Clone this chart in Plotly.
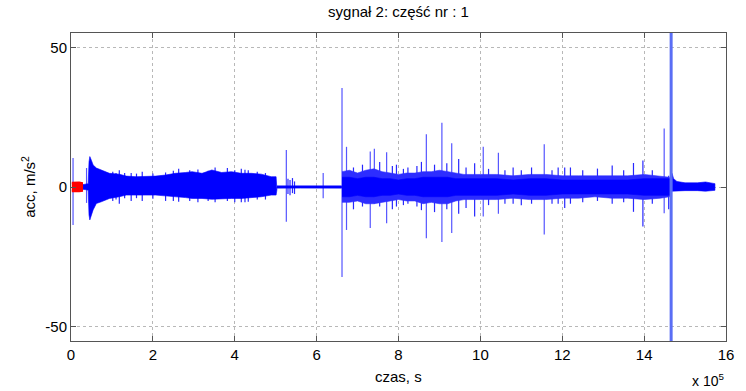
import plotly.graph_objects as go

# ---------------- data (time in seconds, acceleration in m/s^2) ----------------
# red highlighted part (część nr 1)
red_t = [2000, 8000, 14000, 20000, 27000]
red_hi = [1.5, 1.6, 1.5, 1.6, 1.4]
red_lo = [-1.5, -1.6, -1.5, -1.5, -1.4]

# first active segment: envelope of the dense signal
seg1_t = [27000, 38000, 42000, 44000, 46000, 50000, 54000, 62000, 74000, 94000, 118000,
          135000, 159000, 183000, 207000, 231000, 255000, 280000, 296000, 320000,
          344000, 368000, 392000, 416000, 441000, 465000, 489000, 501000, 503000]
seg1_hi = [0.8, 1.0, 1.2, 9.0, 10.9, 9.5, 7.9, 6.8, 6.1, 4.9, 4.6,
           3.9, 3.7, 3.7, 3.9, 4.3, 4.9, 5.2, 5.5, 4.9,
           6.1, 5.2, 5.5, 4.9, 4.9, 4.6, 3.7, 3.7, 1.0]
seg1_lo = [-0.8, -1.0, -1.2, -10.0, -11.8, -10.0, -8.2, -5.9, -5.3, -4.1, -3.5,
           -2.9, -2.9, -2.9, -2.9, -3.2, -3.5, -3.8, -4.1, -4.1,
           -4.4, -4.2, -4.1, -4.1, -3.8, -3.5, -2.9, -2.9, -1.0]

# quiet part between the two active segments
quiet_t = [503000, 560000, 600000, 640000, 661000]
quiet_hi = [0.4, 0.35, 0.35, 0.35, 0.4]
quiet_lo = [-0.4, -0.35, -0.35, -0.35, -0.4]

# second active segment: outer (sparse) and inner (dense) envelopes
seg2_t = [662000, 680000, 700000, 720000, 740000, 760000, 780000, 800000, 820000, 840000,
          860000, 880000, 900000, 920000, 940000, 960000, 980000, 1000000, 1040000, 1080000,
          1120000, 1160000, 1200000, 1240000, 1280000, 1320000, 1360000, 1400000, 1440000, 1462000]
seg2_out_hi = [5.5, 6.0, 5.0, 6.0, 6.5, 5.5, 5.0, 4.5, 5.0, 5.0, 5.5, 5.5, 6.0, 5.5, 5.0,
               4.5, 4.5, 4.5, 4.5, 4.0, 4.5, 4.5, 4.0, 4.0, 4.0, 4.0, 4.0, 4.5, 4.0, 3.5]
seg2_out_lo = [-5.5, -5.5, -5.0, -6.0, -6.0, -5.5, -5.0, -4.5, -5.0, -5.0, -6.0, -5.5, -6.0, -6.0, -5.0,
               -4.5, -4.5, -4.5, -4.5, -4.0, -4.5, -4.5, -4.0, -4.0, -3.5, -4.0, -4.0, -4.5, -4.0, -3.5]
seg2_in_hi = [3.5, 3.5, 3.0, 3.5, 3.5, 3.0, 3.0, 2.5, 3.0, 3.0, 3.5, 3.5, 3.5, 3.5, 3.0,
              3.0, 3.0, 3.0, 3.0, 2.5, 3.0, 3.0, 2.5, 2.5, 2.5, 2.5, 2.5, 3.0, 3.0, 3.0]
seg2_in_lo = [-3.5, -3.5, -3.0, -3.5, -3.5, -3.0, -3.0, -2.5, -3.0, -3.0, -3.5, -3.5, -3.5, -3.5, -3.0,
              -3.0, -3.0, -3.0, -3.0, -2.5, -3.0, -3.0, -2.5, -2.5, -2.5, -2.5, -2.5, -3.0, -3.0, -3.0]

# tail after the large impulse
tail_t = [1468000, 1472000, 1480000, 1500000, 1530000, 1550000, 1573000]
tail_hi = [5.0, 3.0, 2.0, 1.5, 1.5, 1.8, 1.2]
tail_lo = [-1.5, -1.5, -1.3, -1.3, -1.3, -1.5, -1.2]

# isolated tall spikes (time, max, min)
spike_t = [5000, 38000, 526000, 616000, 662000, 673000, 731000, 741000, 771000, 868000,
           906000, 930000, 1007000, 1044000, 1156000, 1449000]
spike_hi = [10.4, 6.8, 13.3, 5.0, 35.5, 14.4, 12.7, 13.7, 12.5, 18.9,
            23.0, 15.7, 14.4, 12.3, 15.3, 21.0]
spike_lo = [-13.6, -5.7, -12.5, -4.0, -32.3, -15.4, -14.7, -6.0, -13.0, -18.4,
            -19.7, -16.5, -10.6, -9.6, -17.0, -9.4]

# smaller fringe spikes around the dense signal (time, max, min)
fringe_t = [102000, 110000, 118000, 131000, 147000, 160000, 174000, 200000, 231000, 250000,
            263000, 290000, 310000, 335000, 352000, 382000, 400000, 416000, 425000, 433000,
            455000, 475000, 530000, 535000, 541000, 546000,
            690000, 712000, 754000, 785000, 795000, 812000, 823000, 845000, 856000, 888000,
            918000, 947000, 965000, 986000, 1020000, 1060000, 1080000, 1100000, 1125000,
            1175000, 1190000, 1206000, 1220000, 1250000, 1286000, 1322000, 1350000,
            1374000, 1397000, 1420000, 1460000]
fringe_hi = [5.5, 5.0, 6.0, 5.0, 5.0, 4.8, 5.5, 4.8, 5.2, 5.8,
             6.5, 6.0, 6.3, 5.8, 7.0, 6.8, 6.0, 6.5, 6.2, 6.0,
             5.5, 5.0, 3.0, 2.5, 3.2, 2.0,
             7.0, 8.0, 9.0, 7.5, 8.0, 6.5, 7.0, 7.5, 9.0, 8.0,
             8.5, 10.0, 7.0, 8.5, 6.5, 6.0, 7.0, 6.0, 7.0,
             6.0, 7.0, 7.0, 7.0, 6.0, 6.6, 7.7, 6.0,
             8.6, 9.5, 6.0, 4.0]
fringe_lo = [-5.0, -4.5, -6.0, -4.0, -5.0, -4.0, -5.0, -4.2, -5.0, -5.0,
             -5.3, -5.0, -5.5, -5.0, -5.5, -5.0, -5.5, -5.5, -5.5, -5.3,
             -4.5, -4.5, -2.5, -3.0, -2.2, -2.5,
             -8.0, -7.0, -7.0, -8.0, -7.0, -6.5, -6.0, -7.0, -8.3, -9.0,
             -8.0, -9.6, -7.5, -10.6, -6.5, -6.0, -6.0, -6.5, -6.0,
             -6.0, -6.0, -7.5, -6.0, -5.5, -5.0, -6.0, -5.5,
             -8.9, -14.2, -6.0, -8.0]

# the large impulse (beyond the axis limits)
big_t = [1466000]
big_hi = [90.0]
big_lo = [-90.0]

x_ticks = [0, 200000, 400000, 600000, 800000, 1000000, 1200000, 1400000, 1600000]
x_ticktext = ["0", "2", "4", "6", "8", "10", "12", "14", "16"]
y_ticks = [-50, 0, 50]
y_ticktext = ["-50", "0", "50"]

# ---------------- figure ----------------
BLUE = "rgb(0,0,255)"
LIGHT = "rgb(85,85,255)"


def band(t, hi, lo, color, width=0.6):
    return go.Scatter(x=list(t) + list(t)[::-1], y=list(hi) + list(lo)[::-1],
                      fill="toself", fillcolor=color, mode="lines",
                      line=dict(color=color, width=width), hoverinfo="skip",
                      showlegend=False)


def spikes(t, hi, lo, color, width):
    xs, ys = [], []
    for a, b, c in zip(t, hi, lo):
        xs += [a, a, None]
        ys += [c, b, None]
    return go.Scatter(x=xs, y=ys, mode="lines", line=dict(color=color, width=width),
                      hoverinfo="skip", showlegend=False)


fig = go.Figure()
fig.add_trace(spikes(spike_t, spike_hi, spike_lo, LIGHT, 1.2))
fig.add_trace(spikes(fringe_t, fringe_hi, fringe_lo, "rgb(40,40,255)", 1.2))
fig.add_trace(band(quiet_t, quiet_hi, quiet_lo, BLUE, 0.8))
fig.add_trace(band(seg1_t, seg1_hi, seg1_lo, BLUE))
fig.add_trace(band(seg2_t, seg2_out_hi, seg2_out_lo, "rgb(45,45,255)"))
fig.add_trace(band(seg2_t, seg2_in_hi, seg2_in_lo, BLUE))
fig.add_trace(band(tail_t, tail_hi, tail_lo, BLUE))
fig.add_trace(spikes(big_t, big_hi, big_lo, "rgb(90,110,245)", 3))
fig.add_trace(band(red_t, red_hi, red_lo, "rgb(255,0,0)", 2))

FONT = "Liberation Sans, Arial, sans-serif"
axis_common = dict(showline=True, linecolor="#555555", linewidth=1, mirror="ticks",
                   ticks="inside", ticklen=5, tickcolor="#555555",
                   showgrid=True, gridcolor="#b8b8b8", griddash="dot", gridwidth=1,
                   zeroline=False, tickfont=dict(family=FONT, size=15, color="black"))

fig.update_layout(
    width=746, height=391,
    margin=dict(l=71, r=13, t=33, b=50),
    paper_bgcolor="white", plot_bgcolor="white",
    font=dict(family=FONT, size=15, color="black"),
    title=dict(text="sygnał 2: część nr : 1", x=0.5, xref="paper", xanchor="center",
               y=1 - 12 / 391, yref="container", yanchor="middle",
               font=dict(family=FONT, size=15, color="black")),
    xaxis=dict(range=[0, 1600000], tickvals=x_ticks, ticktext=x_ticktext, **axis_common),
    yaxis=dict(range=[-55.2, 55.2], tickvals=y_ticks, ticktext=y_ticktext, **axis_common),
    annotations=[
        dict(text="czas, s", xref="paper", yref="paper", x=0.5, y=-0.114,
             xanchor="center", yanchor="middle", showarrow=False,
             font=dict(family=FONT, size=15, color="black")),
        dict(text="x 10<sup>5</sup>", xref="paper", yref="paper", x=1.0, y=-0.128,
             xanchor="right", yanchor="middle", showarrow=False,
             font=dict(family=FONT, size=14, color="black")),
        dict(text="acc, m/s<sup>2</sup>", xref="paper", yref="paper", x=-0.066, y=0.5,
             xanchor="center", yanchor="middle", showarrow=False, textangle=-90,
             font=dict(family=FONT, size=15, color="black")),
    ],
)

fig.write_html("out.html")
